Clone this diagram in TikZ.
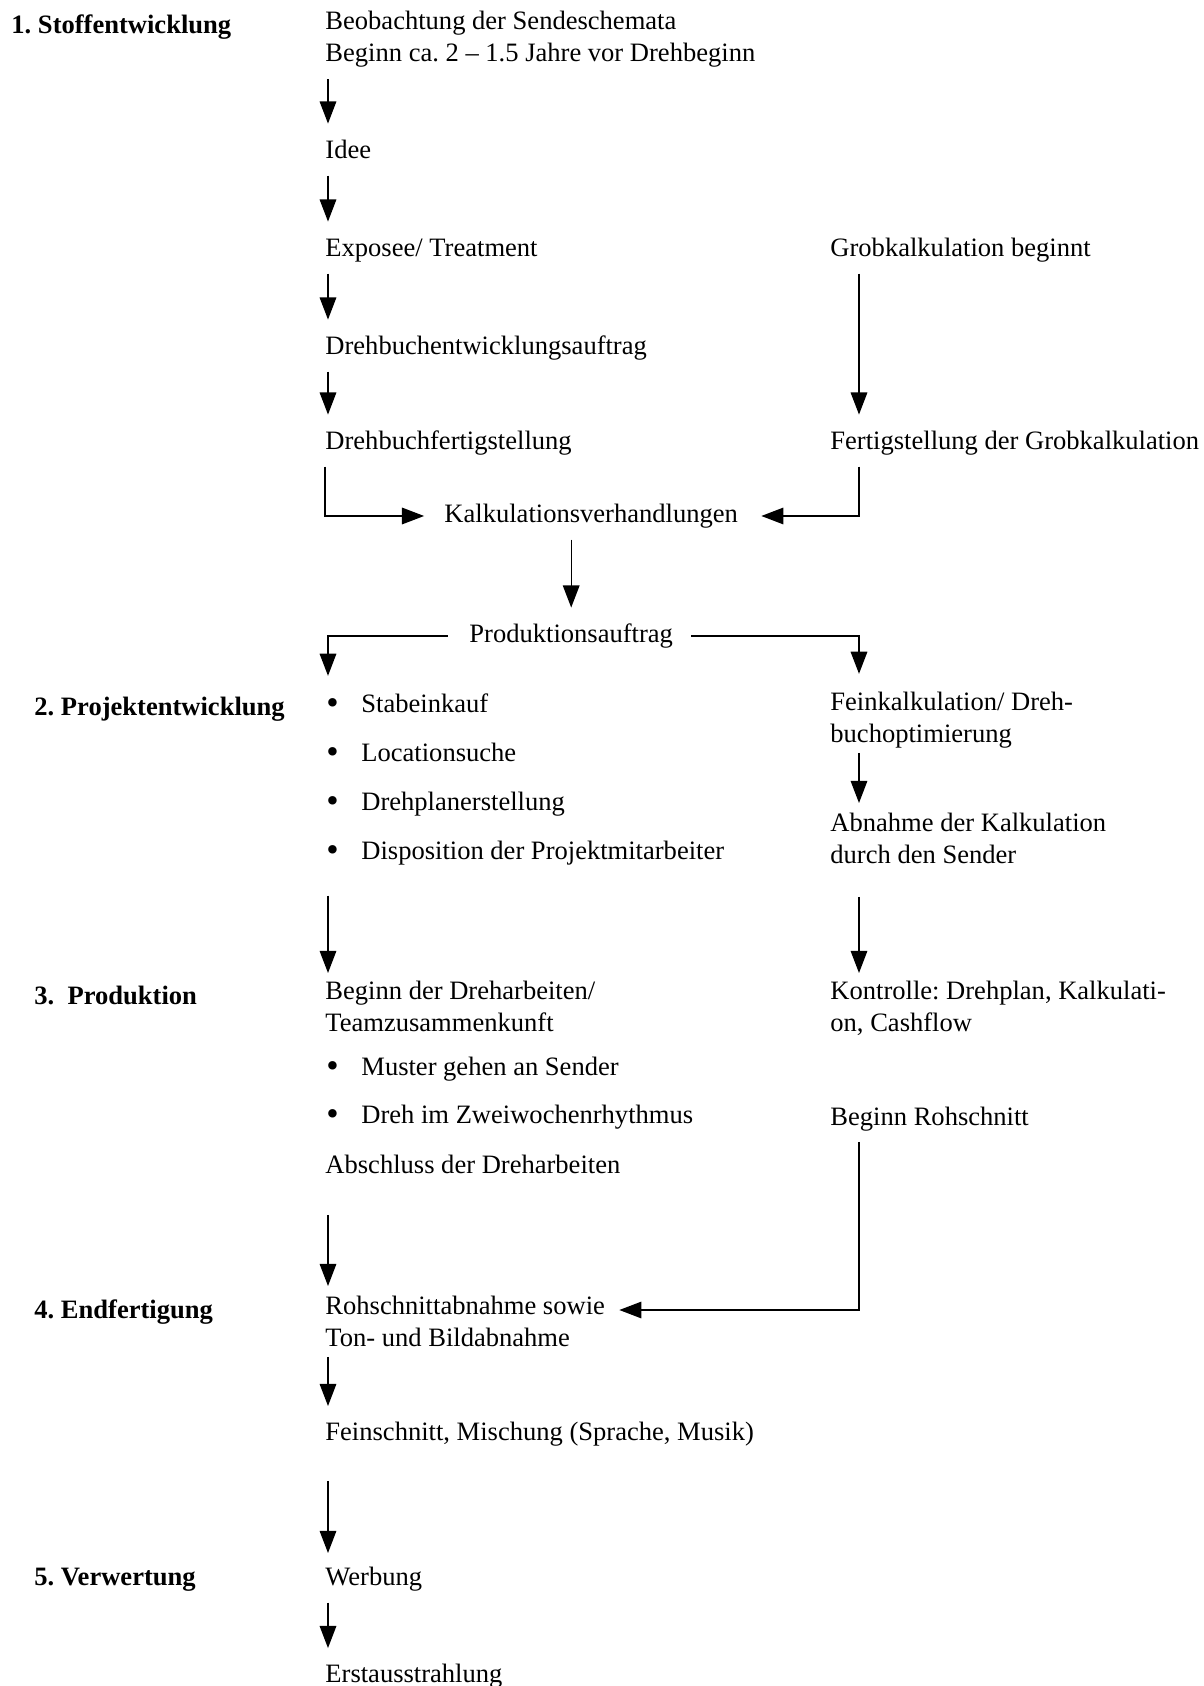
\documentclass[tikz,border=0pt]{standalone}
\usepackage{fontspec}
\setmainfont{Liberation Serif}
\usetikzlibrary{arrows.meta}
\tikzstyle{txt} = [inner sep=0pt, anchor=north west, align=left,
  execute at begin node=\strut, execute at end node=\strut]
\tikzstyle{phase} = [txt, font=\bfseries]
\tikzstyle{arrow} = [line width=0.6pt, ->, >={Triangle[length=10pt,width=7.5pt]},
  shorten <=3.2pt, shorten >=5.4pt]
\newcommand{\bul}{\makebox[15.8pt][l]{\raisebox{-0.8pt}{\fontsize{16pt}{0pt}\selectfont\textbullet}}}

\begin{document}
\fontsize{12pt}{14.5pt}\selectfont\frenchspacing
\begin{tikzpicture}[x=0.452pt, y=-0.452pt]
	\useasboundingbox (0,0) rectangle (1204,1686);

	% phases
	\node[phase] (stoff)        at (11,11)     {1. Stoffentwicklung};
	\node[phase] (projekt)      at (34,692.5)  {2. Projektentwicklung};
	\node[phase] (produktion)   at (34,981.5)  {3.\ \ Produktion};
	\node[phase] (endfertigung) at (34,1295.5) {4. Endfertigung};
	\node[phase] (verwertung)   at (34,1562.5) {5. Verwertung};

	% main column
	\node[txt] (beob)        at (325,11)     {Beobachtung der Sendeschemata\\Beginn ca. 2 -- 1.5 Jahre vor Drehbeginn};
	\node[txt] (idee)        at (325,135.5)  {Idee};
	\node[txt] (expo)        at (325,233.5)  {Exposee/ Treatment};
	\node[txt] (dbauftrag)   at (325,331.5)  {Drehbuchentwicklungsauftrag};
	\node[txt] (dbfertig)    at (325,426.5)  {Drehbuchfertigstellung};
	\node[txt] (kalk)        at (444,499.5)  {Kalkulationsverhandlungen};
	\node[txt] (prodauftrag) at (469,619.5)  {Produktionsauftrag};
	\node[txt] (projbullets) at (326,693.5)  {\bul Stabeinkauf\\[7.7pt]\bul Locationsuche\\[7.7pt]\bul Drehplanerstellung\\[7.7pt]\bul Disposition der Projektmitarbeiter};
	\node[txt] (beginndreh)  at (325,980.5)  {Beginn der Dreharbeiten/\\Teamzusammenkunft};
	\node[txt] (prodbullets) at (326,1056.5) {\bul Muster gehen an Sender\\[7.2pt]\bul Dreh im Zweiwochenrhythmus};
	\node[txt] (abschluss)   at (325,1150.5) {Abschluss der Dreharbeiten};
	\node[txt] (rohabnahme)  at (325,1295.5) {Rohschnittabnahme sowie\\Ton- und Bildabnahme};
	\node[txt] (feinschnitt) at (325,1417.5) {Feinschnitt, Mischung (Sprache, Musik)};
	\node[txt] (werbung)     at (325,1562.5) {Werbung};
	\node[txt] (erst)        at (325,1660)   {Erstausstrahlung};

	% right column
	\node[txt] (grob)       at (830,233.5)  {Grobkalkulation beginnt};
	\node[txt] (grobfertig) at (830,426.5)  {Fertigstellung der Grobkalkulation};
	\node[txt] (feinkalk)   at (830,691.5)  {Feinkalkulation/ Dreh-\\buchoptimierung};
	\node[txt] (abnahme)    at (830,812.5)  {Abnahme der Kalkulation\\durch den Sender};
	\node[txt] (kontrolle)  at (830,980.5)  {Kontrolle: Drehplan, Kalkulati-\\on, Cashflow};
	\node[txt] (rohbeginn)  at (830,1102.5) {Beginn Rohschnitt};

	% arrows
	\draw[arrow] ([shift={(3,0)}]beob.south west) -- ([shift={(3,0)}]idee.north west);
	\draw[arrow] ([shift={(3,0)}]idee.south west) -- ([shift={(3,0)}]expo.north west);
	\draw[arrow] ([shift={(3,0)}]expo.south west) -- ([shift={(3,0)}]dbauftrag.north west);
	\draw[arrow] ([shift={(3,0)}]dbauftrag.south west) -- ([shift={(3,0)}]dbfertig.north west);
	\draw[arrow] ([shift={(29,0)}]grob.south west) -- ([shift={(29,0)}]grobfertig.north west);
	\draw[arrow, shorten >=9pt] (dbfertig.south west) |- (kalk.west);
	\draw[arrow, shorten >=10.4pt] ([shift={(29,0)}]grobfertig.south west) |- (kalk.east);
	\draw[arrow] (kalk.south -| prodauftrag.north) -- (prodauftrag.north);
	\draw[arrow, shorten <=9.5pt, shorten >=8pt] (prodauftrag.west) -| ([shift={(2,0)}]projbullets.north west);
	\draw[arrow, shorten <=8.1pt, shorten >=8pt] (prodauftrag.east) -| ([shift={(29,0)}]feinkalk.north west);
	\draw[arrow, shorten <=0.2pt, shorten >=4.3pt] ([shift={(29,0)}]feinkalk.south west) -- ([shift={(29,0)}]abnahme.north west);
	\draw[arrow, shorten <=11.5pt, shorten >=3.4pt] ([shift={(2,0)}]projbullets.south west) -- ([shift={(3,0)}]beginndreh.north west);
	\draw[arrow, shorten <=10.6pt, shorten >=3.4pt] ([shift={(29,0)}]abnahme.south west) -- ([shift={(29,0)}]kontrolle.north west);
	\draw[arrow, shorten <=14.2pt, shorten >=4.3pt] ([shift={(3,0)}]abschluss.south west) -- ([shift={(3,0)}]rohabnahme.north west);
	\draw[arrow, shorten <=2.9pt, shorten >=0pt] ([shift={(29,0)}]rohbeginn.south west) |- ([shift={(14,14.5)}]rohabnahme.north east);
	\draw[arrow, shorten <=0.2pt, shorten >=5.2pt] ([shift={(3,0)}]rohabnahme.south west) -- ([shift={(3,0)}]feinschnitt.north west);
	\draw[arrow, shorten <=13.7pt, shorten >=4.3pt] ([shift={(3,0)}]feinschnitt.south west) -- ([shift={(3,0)}]werbung.north west);
	\draw[arrow] ([shift={(3,0)}]werbung.south west) -- ([shift={(3,0)}]erst.north west);
\end{tikzpicture}
\end{document}
